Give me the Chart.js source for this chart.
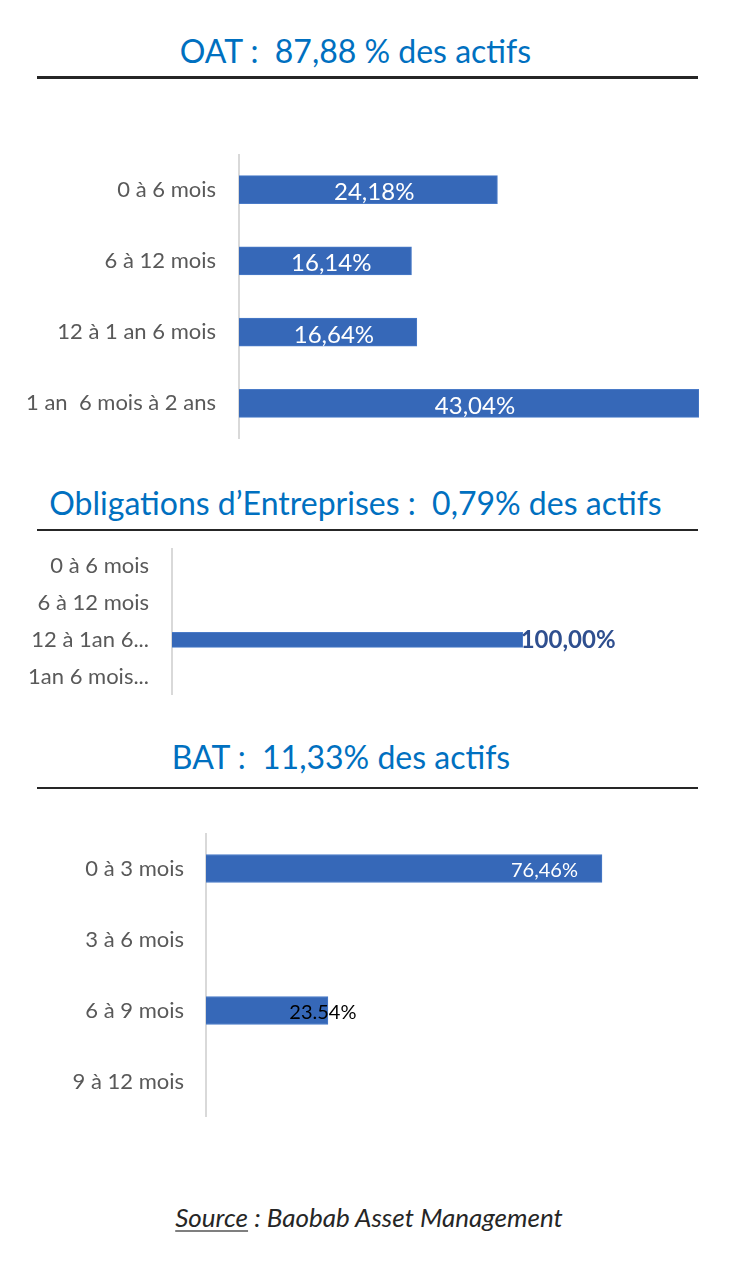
<!DOCTYPE html>
<html lang="fr">
<head>
<meta charset="utf-8">
<script src="https://cdn.jsdelivr.net/npm/chart.js@4"></script>
<style>
  html, body { margin:0; padding:0; background:#fff; }
  body { width:754px; height:1276px; position:relative; overflow:hidden; font-family: Lato, "Noto Sans", sans-serif; }
  .title { position:absolute; left:0; width:711px; text-align:center; color:#0070C0; font-size:32px; line-height:1; white-space:pre; }
  .rule { position:absolute; left:37px; width:661px; height:2px; background:#262626; }
  .cv { position:absolute; left:0; }
  .source { position:absolute; left:0; width:738px; text-align:center; font-style:italic; font-size:26px; line-height:1; color:#262626; white-space:pre; }
  .source u { text-decoration-color:#7f7f7f; text-underline-offset:3px; }
</style>
</head>
<body>
<div class="title" id="t1" style="top:35px;"></div>
<div class="rule" style="top:76px;height:3px;"></div>
<canvas class="cv" id="c1" width="754" height="285" style="top:154px;width:754px;height:285px;"></canvas>

<div class="title" id="t2" style="top:487px;"></div>
<div class="rule" style="top:529px;"></div>
<canvas class="cv" id="c2" width="754" height="147" style="top:548px;width:754px;height:147px;"></canvas>

<div class="title" id="t3" style="top:741px;width:682px;"></div>
<div class="rule" style="top:787px;"></div>
<canvas class="cv" id="c3" width="754" height="284" style="top:833px;width:754px;height:284px;"></canvas>

<div class="source" style="top:1204px;"><u>Source</u> : Baobab Asset Management</div>

<script>
// ---- Titles ----
const oatTitle = 'OAT :  87,88 % des actifs';
const corpTitle = 'Obligations d\u2019Entreprises :  0,79% des actifs';
const batTitle = 'BAT :  11,33% des actifs';

// ---- OAT ----
const oatCategories = ['0 à 6 mois', '6 à 12 mois', '12 à 1 an 6 mois', '1 an  6 mois à 2 ans'];
const oatValues = [24.18, 16.14, 16.64, 43.04];
const oatLabels = ['24,18%', '16,14%', '16,64%', '43,04%'];

// ---- Obligations d'Entreprises ----
const corpCategories = ['0 à 6 mois', '6 à 12 mois', '12 à 1an 6...', '1an 6 mois...'];
const corpValues = [null, null, 100, null];
const corpLabels = ['', '', '100,00%', ''];

// ---- BAT ----
const batCategories = ['0 à 3 mois', '3 à 6 mois', '6 à 9 mois', '9 à 12 mois'];
const batValues = [76.46, null, 23.54, null];
const batLabels = ['76,46%', '', '23.54%', ''];

document.getElementById('t1').textContent = oatTitle;
document.getElementById('t2').textContent = corpTitle;
document.getElementById('t3').textContent = batTitle;

const BAR_COLOR = '#3668B8';

const pick = (v, i) => Array.isArray(v) ? v[i] : v;

const barLabelsPlugin = {
  id: 'barLabels',
  afterDatasetsDraw(chart, args, opts) {
    const meta = chart.getDatasetMeta(0);
    const ctx = chart.ctx;
    ctx.save();
    ctx.font = opts.font;
    ctx.textBaseline = 'alphabetic';
    meta.data.forEach((el, i) => {
      const txt = opts.labels[i];
      if (!txt || chart.data.datasets[0].data[i] == null) return;
      const pos = pick(opts.position, i);
      const dx = pick(opts.dx, i) || 0;
      ctx.fillStyle = pick(opts.color, i);
      let x;
      if (pos === 'center') { ctx.textAlign = 'center'; x = (el.x + el.base) / 2; }
      else if (pos === 'endInside') { ctx.textAlign = 'right'; x = el.x; }
      else if (pos === 'endCenter') { ctx.textAlign = 'center'; x = el.x; }
      else { ctx.textAlign = 'left'; x = el.x; }
      ctx.fillText(txt, x + dx, el.y + (opts.dy || 0) + opts.capHalf);
    });
    ctx.restore();
  }
};

function makeChart(id, cats, vals, cfg) {
  return new Chart(document.getElementById(id), {
    type: 'bar',
    data: {
      labels: cats,
      datasets: [{
        data: vals,
        backgroundColor: BAR_COLOR,
        borderColor: '#4A7BC8',
        borderWidth: 1,
        borderSkipped: 'start',
        barThickness: cfg.barThickness
      }]
    },
    options: {
      indexAxis: 'y',
      responsive: false,
      animation: false,
      events: [],
      layout: { padding: { left: 0, right: cfg.padRight, top: 0, bottom: 0 } },
      plugins: {
        legend: { display: false },
        tooltip: { enabled: false },
        barLabels: cfg.labels
      },
      scales: {
        x: { display: false, min: 0, max: cfg.max },
        y: {
          grid: { display: false, drawTicks: false },
          border: { display: true, color: '#D9D9D9', width: 2 },
          ticks: {
            autoSkip: false,
            padding: cfg.tickPad,
            color: '#595959',
            font: { family: 'Lato', size: 22 }
          },
          afterFit: (s) => { s.width = cfg.axisX; s.paddingTop = 0; s.paddingBottom = 0; }
        }
      }
    },
    plugins: [barLabelsPlugin]
  });
}

makeChart('c1', oatCategories, oatValues, {
  barThickness: 28, padRight: 55, max: 43.04, axisX: 239, tickPad: 23,
  labels: { labels: oatLabels, position: 'center', dx: 6, dy: 2, capHalf: 8.6,
            font: '24px Lato', color: '#FFFFFF' }
});

makeChart('c2', corpCategories, corpValues, {
  barThickness: 15, padRight: 56, max: 150, axisX: 172, tickPad: 23,
  labels: { labels: corpLabels, position: 'endOutside', dx: -2, dy: 0, capHalf: 8.6,
            font: 'bold 24px Lato', color: '#2F4F8F' }
});

makeChart('c3', batCategories, batValues, {
  barThickness: 28, padRight: 56, max: 95, axisX: 206, tickPad: 22,
  labels: { labels: batLabels, position: ['endInside', null, 'endCenter', null], dx: [-24, 0, -5, 0], dy: 1, capHalf: 7.2,
            font: '20px Lato', color: ['#FFFFFF', '#000000', '#000000', '#000000'] }
});
</script>
</body>
</html>
